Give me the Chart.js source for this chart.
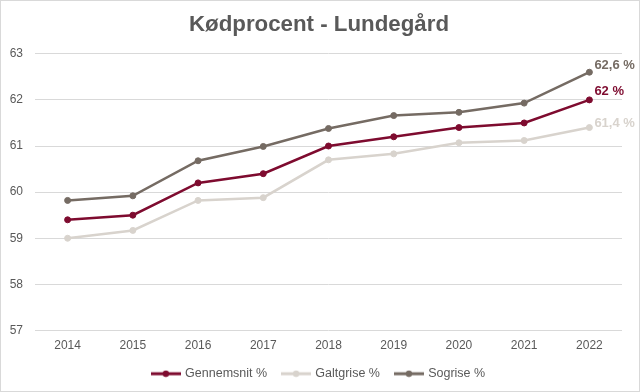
<!DOCTYPE html>
<html lang="da">
<head>
<meta charset="UTF-8">
<title>Kødprocent - Lundegård</title>
<script src="https://cdn.jsdelivr.net/npm/chart.js"></script>
<style>
  html, body { margin: 0; padding: 0; background: #fff; }
  .frame { width: 640px; height: 392px; box-sizing: border-box; border: 1px solid #d9d9d9; }
  .frame canvas { display: block; }
</style>
</head>
<body>
<div class="frame"><canvas id="chart" width="638" height="390"></canvas></div>
<script>
// --- data ---
const years = ['2014', '2015', '2016', '2017', '2018', '2019', '2020', '2021', '2022'];
const gennemsnit = [59.4, 59.5, 60.2, 60.4, 61.0, 61.2, 61.4, 61.5, 62.0];
const galtgrise = [59.0, 59.17, 59.82, 59.88, 60.7, 60.83, 61.07, 61.12, 61.4];
const sogrise = [59.82, 59.92, 60.68, 60.99, 61.38, 61.66, 61.73, 61.93, 62.6];
const endLabels = ['62 %', '61,4 %', '62,6 %'];

const colors = ['#7e0b2f', '#d8d3cd', '#756b63'];
const labelShiftY = [-8, -4, -7];
const textGrey = '#595959';
const fontFamily = "'Liberation Sans', Arial, sans-serif";

// legend marker: short line with a dot in the middle
function legendMarker(color) {
    const c = document.createElement('canvas');
    c.width = 30; c.height = 8;
    const g = c.getContext('2d');
    g.strokeStyle = color; g.lineWidth = 3;
    g.beginPath(); g.moveTo(0, 4); g.lineTo(30, 4); g.stroke();
    g.fillStyle = color;
    g.beginPath(); g.arc(15, 4, 3.2, 0, Math.PI * 2); g.fill();
    return c;
}

function series(label, data, color) {
    return {
        label, data,
        borderColor: color, backgroundColor: color,
        pointBackgroundColor: color, pointBorderColor: color,
        pointStyle: 'circle', pointRadius: 3, pointBorderWidth: 1, pointHoverRadius: 3,
        borderWidth: 2.5, tension: 0
    };
}

// value labels after the last point
const endLabelPlugin = {
    id: 'endLabels',
    afterDatasetsDraw(chart) {
        const ctx = chart.ctx;
        ctx.save();
        ctx.font = 'bold 13px ' + fontFamily;
        ctx.textBaseline = 'middle';
        ctx.textAlign = 'left';
        chart.data.datasets.forEach((ds, i) => {
            const pts = chart.getDatasetMeta(i).data;
            const p = pts[pts.length - 1];
            ctx.fillStyle = colors[i];
            ctx.fillText(endLabels[i], p.x + 5, p.y + labelShiftY[i]);
        });
        ctx.restore();
    }
};

new Chart(document.getElementById('chart'), {
    type: 'line',
    data: {
        labels: years,
        datasets: [
            series('Gennemsnit %', gennemsnit, colors[0]),
            series('Galtgrise %', galtgrise, colors[1]),
            series('Sogrise %', sogrise, colors[2])
        ]
    },
    options: {
        responsive: false,
        animation: false,
        layout: { padding: { top: 8, right: 2, left: 0, bottom: 1 } },
        plugins: {
            title: {
                display: true,
                text: 'Kødprocent - Lundegård',
                color: textGrey,
                font: { family: fontFamily, size: 22.3, weight: 'bold' },
                padding: { top: 2, bottom: 16 }
            },
            legend: {
                position: 'bottom',
                labels: {
                    color: textGrey,
                    font: { family: fontFamily, size: 12.5 },
                    usePointStyle: true,
                    pointStyleWidth: 26,
                    padding: 16,
                    generateLabels(chart) {
                        return chart.data.datasets.map((ds, i) => ({
                            text: ds.label,
                            pointStyle: legendMarker(colors[i]),
                            fillStyle: colors[i],
                            strokeStyle: colors[i],
                            lineWidth: 0,
                            fontColor: textGrey,
                            datasetIndex: i,
                            hidden: false
                        }));
                    }
                }
            },
            tooltip: { enabled: false }
        },
        scales: {
            x: {
                offset: true,
                grid: { display: false, drawTicks: false },
                border: { display: false },
                ticks: { color: textGrey, font: { family: fontFamily, size: 12 }, padding: 8 },
                afterFit(scale) { scale.height = 21; }
            },
            y: {
                min: 57, max: 63,
                ticks: { stepSize: 1, color: textGrey, font: { family: fontFamily, size: 12 }, padding: 12 },
                grid: { color: '#d9d9d9', lineWidth: 1, drawTicks: false },
                border: { display: false },
                afterFit(scale) { scale.width = 34; }
            },
            // empty right gutter so the title and legend stay centred on the canvas
            gutter: {
                position: 'right',
                grid: { display: false, drawTicks: false },
                border: { display: false },
                ticks: { display: false },
                afterFit(scale) { scale.width = 15; }
            }
        }
    },
    plugins: [endLabelPlugin]
});
</script>
</body>
</html>
